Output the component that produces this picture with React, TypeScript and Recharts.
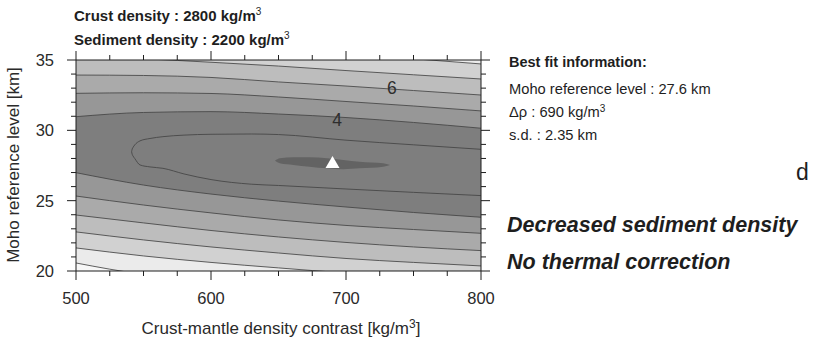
import {
  ComposedChart,
  Area,
  Scatter,
  XAxis,
  YAxis,
  CartesianGrid,
  ReferenceDot,
} from "recharts";

// Crust-mantle density contrast columns (kg/m3) where the contour branches are sampled
const contrastCols = [500, 550, 600, 650, 700, 750, 800];

// s.d. contours (km): upper and lower branch of each level, Moho level in km
const upper9 = [38.6, 38.3, 38.0, 37.7, 37.4, 37.1, 36.8];
const lower9 = [20.57, 19.76, 19.33, 18.95, 18.6, 18.3, 18.0];
const upper8 = [36.73, 36.46, 36.15, 35.82, 35.47, 35.09, 34.72];
const lower8 = [21.64, 21.07, 20.61, 20.22, 19.86, 19.61, 19.36];
const upper7 = [35.28, 35.09, 34.84, 34.57, 34.25, 33.95, 33.65];
const lower7 = [22.78, 22.21, 21.71, 21.28, 20.89, 20.61, 20.36];
const upper6 = [33.93, 33.9, 33.76, 33.44, 33.15, 32.83, 32.51];
const lower6 = [23.98, 23.42, 22.88, 22.42, 22.03, 21.71, 21.45];
const upper5 = [32.63, 32.67, 32.62, 32.37, 32.05, 31.73, 31.38];
const lower5 = [25.33, 24.69, 24.13, 23.63, 23.24, 22.95, 22.68];
const upper4 = [30.97, 31.27, 31.33, 31.16, 30.91, 30.56, 30.15];
const lower4 = [26.99, 26.11, 25.47, 24.97, 24.55, 24.16, 23.82];

// level 3 closes on the left, so it gets its own (denser near the nose) columns
const contrast3 = [541.2, 541.6, 542.2, 543.5, 547.4, 554.8, 564.4, 580, 600, 630, 650, 700, 750, 800];
const upper3 = [28.48, 28.66, 28.78, 28.96, 29.25, 29.42, 29.55, 29.66, 29.72, 29.74, 29.7, 29.3, 28.97, 28.65];
const lower3 = [28.48, 28.3, 28.18, 28.0, 27.54, 27.4, 27.3, 26.9, 26.5, 26.17, 26.08, 25.83, 25.59, 25.36];

// innermost minimum around the best fit
const contrastMin = [647.4, 651, 661, 673, 686, 698, 710, 727.6, 732.6];
const upperMin = [27.84, 28.01, 28.08, 28.08, 28.01, 27.89, 27.77, 27.66, 27.54];
const lowerMin = [27.84, 27.66, 27.54, 27.42, 27.3, 27.23, 27.3, 27.42, 27.54];

const bestFitContrast = [690];
const bestFitMoho = [27.6];

const contourLabelText = ["4", "6"];
const contourLabelContrast = [693.5, 733.9];
const contourLabelMoho = [30.76, 32.99];

const contrastTicks = [500, 525, 550, 575, 600, 625, 650, 675, 700, 725, 750, 775, 800];
const contrastLabelled = [500, 600, 700, 800];
const mohoTicks = [20, 21, 22, 23, 24, 25, 26, 27, 28, 29, 30, 31, 32, 33, 34, 35];
const mohoLabelled = [20, 25, 30, 35];

const FONT = '"Liberation Sans", Arial, Helvetica, sans-serif';
const INK = "#1e1e1e";
const CONTOUR = "#444444";
const OUTER_FILL = "#f7f7f7";
const MIN_FILL = "#636363";

const band = (xs: number[], lo: number[], hi: number[]) =>
  xs.map((x, i) => ({ x, v: [lo[i], hi[i]] }));

// outermost level first so the inner ones paint over it
const levels = [
  { key: "l9", fill: "#ebebeb", rows: band(contrastCols, lower9, upper9) },
  { key: "l8", fill: "#d1d1d1", rows: band(contrastCols, lower8, upper8) },
  { key: "l7", fill: "#bdbdbd", rows: band(contrastCols, lower7, upper7) },
  { key: "l6", fill: "#aaaaaa", rows: band(contrastCols, lower6, upper6) },
  { key: "l5", fill: "#979797", rows: band(contrastCols, lower5, upper5) },
  { key: "l4", fill: "#7e7e7e", rows: band(contrastCols, lower4, upper4) },
  { key: "l3", fill: "#7e7e7e", rows: band(contrast3, lower3, upper3) },
];

const minRows = band(contrastMin, lowerMin, upperMin);
const bestFitRows = bestFitContrast.map((x, i) => ({ x, y: bestFitMoho[i] }));

type Side = "bottom" | "top" | "left" | "right";
type TickProps = { x?: number; y?: number; payload?: { value: number } };

// ticks drawn by hand so majors can be longer than minors
function frameTick(side: Side, labelled: number[]) {
  return function FrameTick(props: TickProps) {
    const x = props.x ?? 0;
    const y = props.y ?? 0;
    const v = props.payload?.value ?? 0;
    const major = labelled.includes(v);
    const len = major ? 9 : 5;
    let x2 = x;
    let y2 = y;
    if (side === "bottom") y2 = y + len;
    if (side === "top") y2 = y - len;
    if (side === "left") x2 = x - len;
    if (side === "right") x2 = x + len;
    return (
      <g>
        <line x1={x} y1={y} x2={x2} y2={y2} stroke={INK} strokeWidth={1} />
        {major && side === "bottom" && (
          <text x={x} y={y + 33} textAnchor="middle" fontSize={16.5} fill="#2a2a2a" fontFamily={FONT}>
            {v}
          </text>
        )}
        {major && side === "left" && (
          <text x={x - 22} y={y + 6} textAnchor="end" fontSize={16.5} fill="#2a2a2a" fontFamily={FONT}>
            {v}
          </text>
        )}
      </g>
    );
  };
}

function BestFitMarker(props: { cx?: number; cy?: number }) {
  const cx = props.cx ?? 0;
  const cy = props.cy ?? 0;
  return <polygon points={`${cx},${cy - 8} ${cx + 7},${cy + 4} ${cx - 7},${cy + 4}`} fill="#ffffff" />;
}

// axes are 1px thick so they still render; the margins below leave room for that
const axisCommon = {
  type: "number" as const,
  allowDataOverflow: true,
  interval: 0 as const,
  tickSize: 0,
  tickMargin: 0,
  tickLine: false,
  axisLine: { stroke: INK, strokeWidth: 1 },
};

export default function App() {
  return (
    <div
      style={{
        position: "absolute",
        left: 0,
        top: 0,
        width: 820,
        height: 342,
        background: "#fff",
        fontFamily: FONT,
      }}
    >
      <ComposedChart width={820} height={342} margin={{ top: 59, right: 338, bottom: 70, left: 75 }}>
        <CartesianGrid horizontal={false} vertical={false} fill={OUTER_FILL} />
        <XAxis
          {...axisCommon}
          dataKey="x"
          domain={[500, 800]}
          ticks={contrastTicks}
          height={1}
          tick={frameTick("bottom", contrastLabelled)}
        />
        <XAxis
          {...axisCommon}
          xAxisId="top"
          orientation="top"
          dataKey="x"
          domain={[500, 800]}
          ticks={contrastTicks}
          height={1}
          tick={frameTick("top", contrastLabelled)}
        />
        <YAxis
          {...axisCommon}
          domain={[20, 35]}
          ticks={mohoTicks}
          width={1}
          tick={frameTick("left", mohoLabelled)}
        />
        <YAxis
          {...axisCommon}
          yAxisId="right"
          orientation="right"
          domain={[20, 35]}
          ticks={mohoTicks}
          width={1}
          tick={frameTick("right", mohoLabelled)}
        />
        {levels.map((lv) => (
          <Area
            key={lv.key}
            data={lv.rows}
            dataKey="v"
            type="monotone"
            fill={lv.fill}
            fillOpacity={1}
            stroke={CONTOUR}
            strokeWidth={0.85}
            dot={false}
            activeDot={false}
            isAnimationActive={false}
          />
        ))}
        <Area
          data={minRows}
          dataKey="v"
          type="monotone"
          fill={MIN_FILL}
          fillOpacity={1}
          stroke="none"
          dot={false}
          activeDot={false}
          isAnimationActive={false}
        />
        <Scatter data={bestFitRows} dataKey="y" shape={<BestFitMarker />} isAnimationActive={false} />
        {contourLabelText.map((t, i) => (
          <ReferenceDot
            key={t}
            x={contourLabelContrast[i]}
            y={contourLabelMoho[i]}
            r={0}
            fill="none"
            stroke="none"
            label={{ value: t, position: "center", fontSize: 17.5, fill: "#2e2e2e", fontFamily: FONT }}
          />
        ))}
      </ComposedChart>

      <svg
        width={820}
        height={342}
        style={{ position: "absolute", left: 0, top: 0, pointerEvents: "none" }}
        fontFamily={FONT}
        fill={INK}
      >
        <text x={74} y={21} fontSize={15} fontWeight="bold">
          Crust density : 2800 kg/m
          <tspan dy={-6} fontSize={10} fontWeight="normal">3</tspan>
        </text>
        <text x={74} y={45} fontSize={15} fontWeight="bold">
          Sediment density : 2200 kg/m
          <tspan dy={-6} fontSize={10} fontWeight="normal">3</tspan>
        </text>

        <text x={509} y={66.5} fontSize={14.5} fontWeight="bold">
          Best fit information:
        </text>
        <text x={509} y={93.5} fontSize={14.7}>
          Moho reference level : 27.6 km
        </text>
        <text x={509} y={116.5} fontSize={14.7}>
          Δρ : 690 kg/m
          <tspan dy={-5} fontSize={10}>3</tspan>
        </text>
        <text x={509} y={140} fontSize={14.7}>
          s.d. : 2.35 km
        </text>

        <text x={796} y={180} fontSize={23}>
          d
        </text>

        <text x={507} y={231.5} fontSize={21.5} fontWeight="bold" fontStyle="italic">
          Decreased sediment density
        </text>
        <text x={507} y={269} fontSize={21.5} fontWeight="bold" fontStyle="italic">
          No thermal correction
        </text>

        <text x={281} y={334} fontSize={17} textAnchor="middle" fill="#2a2a2a">
          Crust-mantle density contrast [kg/m
          <tspan dy={-6} fontSize={12}>3</tspan>
          <tspan dy={6}>]</tspan>
        </text>
        <text
          x={18.5}
          y={165}
          fontSize={17}
          textAnchor="middle"
          fill="#2a2a2a"
          transform="rotate(-90 18.5 165)"
        >
          Moho reference level [km]
        </text>
      </svg>
    </div>
  );
}
